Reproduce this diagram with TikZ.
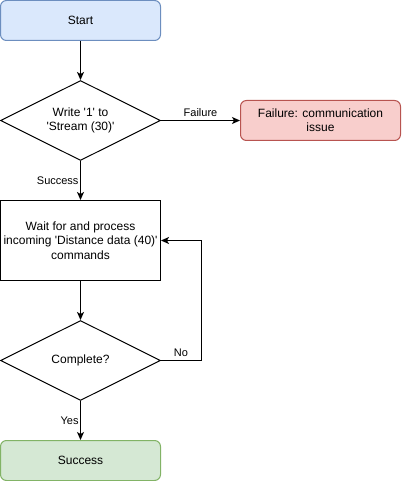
\documentclass[tikz,border=0pt]{standalone}
\usepackage{fontspec}
\setmainfont{Liberation Sans}[Ligatures=TeXOff]
\usepackage{tikz}
\usetikzlibrary{shapes.geometric,arrows.meta}
\definecolor{blueFill}{HTML}{DAE8FC}
\definecolor{blueLine}{HTML}{6C8EBF}
\definecolor{redFill}{HTML}{F8CECC}
\definecolor{redLine}{HTML}{B85450}
\definecolor{greenFill}{HTML}{D5E8D4}
\definecolor{greenLine}{HTML}{82B366}
\tikzstyle{box} = [rectangle, draw, line width=1pt, minimum width=160pt, minimum height=40pt, inner sep=0pt, align=center, font=\fontsize{12}{14.4}\selectfont]
\tikzstyle{decision} = [diamond, draw, line width=1pt, shape aspect=2, minimum width=160pt, minimum height=80pt, inner sep=0pt, align=center, font=\fontsize{12}{14.4}\selectfont]
\tikzstyle{line} = [line width=1pt, -{Stealth[length=8pt,width=7pt,inset=2pt]}]

\begin{document}
\begin{tikzpicture}[x=1pt,y=-1pt]
			\tikzset{lbl/.style={font=\fontsize{11}{13}\selectfont, inner sep=1.5pt}, lblup/.style={lbl, above, inner sep=3pt}}
\useasboundingbox (0,0) rectangle (401,481);
\node[box, rounded corners=6pt, fill=blueFill, draw=blueLine] (n1) at (80.5,20.5) {Start};
\node[decision] (n2) at (80.5,120.5) {Write '1' to\\'Stream (30)'};
\node[box, rounded corners=6pt, fill=redFill, draw=redLine] (n3) at (320.5,120.5) {Failure: communication\\issue};
\node[box, minimum height=80pt] (n4) at (80.5,240.5) {Wait for and process\\incoming 'Distance data (40)'\\commands};
\node[decision] (n5) at (80.5,360.5) {Complete?};
\node[box, rounded corners=6pt, fill=greenFill, draw=greenLine] (n6) at (80.5,460.5) {Success};

\foreach \from/\to in {n1/n2,n4/n5}
{
	\draw[line] (\from) -- (\to);
}
\draw[line] (n2) -- node[lblup] {Failure} (n3);
\draw[line] (n2) -- node[lbl, left] {Success} (n4);
\draw[line] (n5) -- node[lbl, left] {Yes} (n6);
\draw[line] (n5.east) -- node[lblup] {No} ++(40,0) |- (n4.east);

		\end{tikzpicture}
\end{document}
